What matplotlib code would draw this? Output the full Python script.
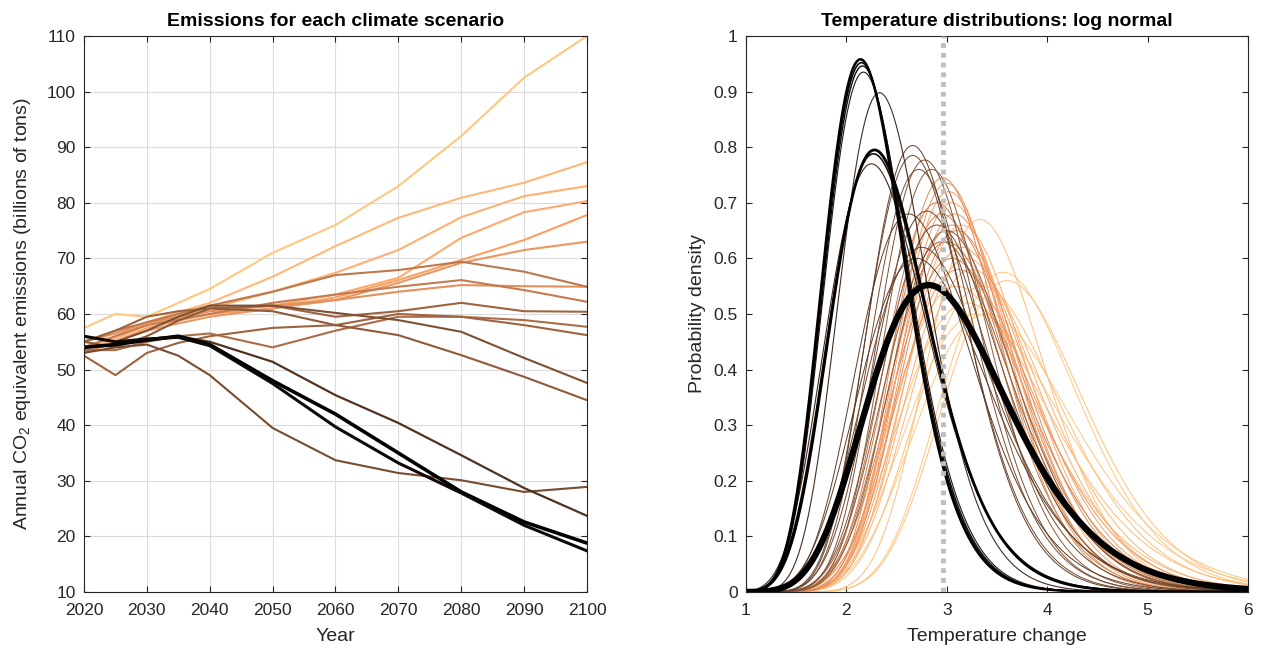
import numpy as np
import matplotlib
matplotlib.use("Agg")
import matplotlib.pyplot as plt
from matplotlib import cm

plt.rcParams['font.family'] = ['Liberation Sans', 'DejaVu Sans']
plt.rcParams['mathtext.default'] = 'regular'

# ---- left panel data: emissions per scenario (billions of tons CO2e)
years = [2020, 2025, 2030, 2035, 2040, 2050, 2060, 2070, 2080, 2090, 2100]
emissions = [
    [57.5, 60.0, 59.5, 62.0, 64.5, 71.0, 76.0, 83.0, 92.0, 102.5, 110.0],
    [54.0, 56.0, 58.5, 60.3, 62.0, 66.7, 72.2, 77.3, 80.9, 83.6, 87.3],
    [53.5, 55.5, 58.0, 59.6, 61.0, 64.0, 67.4, 71.5, 77.4, 81.2, 83.0],
    [54.0, 56.0, 58.0, 59.3, 60.5, 61.5, 63.5, 66.5, 73.7, 78.3, 80.3],
    [53.0, 55.0, 57.5, 58.8, 60.0, 61.0, 63.0, 66.1, 69.7, 73.3, 77.8],
    [53.0, 55.0, 57.0, 58.3, 59.5, 61.0, 62.5, 65.6, 69.2, 71.5, 73.0],
    [55.0, 56.5, 58.5, 59.5, 60.5, 61.5, 62.5, 64.0, 65.2, 65.0, 64.9],
    [55.0, 57.0, 58.5, 60.0, 61.5, 64.0, 67.0, 67.9, 69.4, 67.6, 64.9],
    [54.0, 56.0, 58.0, 59.0, 60.0, 62.0, 63.5, 64.9, 66.1, 64.3, 62.2],
    [55.0, 57.0, 59.5, 60.5, 61.0, 61.5, 59.5, 60.5, 62.0, 60.5, 60.4],
    [53.5, 53.5, 55.0, 56.0, 56.5, 54.0, 57.0, 59.5, 59.5, 58.9, 57.7],
    [52.5, 49.0, 53.0, 54.8, 56.0, 57.5, 58.0, 60.0, 59.5, 58.0, 56.2],
    [56.0, 55.0, 57.0, 59.5, 61.5, 61.5, 60.2, 58.9, 56.8, 52.1, 47.6],
    [55.0, 54.0, 56.0, 58.8, 61.0, 60.5, 58.0, 56.2, 52.6, 48.7, 44.5],
    [53.0, 54.0, 54.5, 52.5, 49.0, 39.5, 33.7, 31.4, 30.1, 28.0, 28.9],
    [54.0, 54.5, 55.5, 56.0, 55.0, 51.4, 45.4, 40.4, 34.6, 28.7, 23.7],
    [54.0, 54.5, 55.3, 56.0, 54.5, 48.0, 42.0, 35.0, 28.0, 22.6, 18.8],
    [56.0, 55.0, 55.5, 55.8, 54.3, 47.5, 39.7, 33.2, 27.8, 22.0, 17.4],
]
# copper colormap position for each scenario
line_shade = [1.0, 0.92, 0.88, 0.85, 0.8, 0.75, 0.72, 0.6, 0.62, 0.5,
              0.55, 0.5, 0.4, 0.45, 0.38, 0.25, 0.0, 0.05]
line_width = [1.5] * 15 + [1.6, 2.6, 2.2]

# ---- right panel data: log-normal temperature distributions (mode, peak density)
modes = [3.56, 3.60, 3.33, 3.40, 3.30, 3.35, 3.25, 3.20, 3.10, 3.20,
         3.15, 3.15, 3.12, 3.05, 3.10, 3.05, 3.00, 2.95, 2.90, 3.08,
         3.05, 3.02, 3.00, 2.96, 2.85, 3.00, 2.95, 2.90, 2.80, 2.78,
         2.72, 2.66, 2.66, 2.75, 2.70, 2.62,
         2.33, 2.25, 2.17, 2.27, 2.16, 2.15, 2.28, 2.14, 2.82]
peaks = [0.575, 0.560, 0.670, 0.500, 0.500, 0.550, 0.580, 0.520, 0.550, 0.600,
         0.620, 0.660, 0.580, 0.600, 0.650, 0.660, 0.630, 0.680, 0.700, 0.680,
         0.700, 0.720, 0.735, 0.745, 0.760, 0.650, 0.630, 0.660, 0.685, 0.777,
         0.760, 0.785, 0.803, 0.620, 0.600, 0.680,
         0.898, 0.770, 0.935, 0.788, 0.946, 0.952, 0.795, 0.958, 0.552]
curve_shade = [1.0, 0.97, 0.95, 1.0, 1.0, 0.95, 0.9, 0.95, 0.9, 0.85,
               0.8, 0.85, 0.75, 0.65, 0.7, 0.7, 0.6, 0.65, 0.6, 0.75,
               0.8, 0.8, 0.75, 0.7, 0.45, 0.45, 0.45, 0.4, 0.35, 0.4,
               0.38, 0.35, 0.3, 0.35, 0.3, 0.3,
               0.22, 0.2, 0.12, 0.08, 0.06, 0.03, 0.0, 0.0, 0.0]
curve_width = [0.7] * 36 + [0.8, 0.8, 0.8, 1.2, 1.0, 1.2, 2.0, 1.8, 4.5]
threshold = 2.96


def lognormal_from_mode(m, h, x):
    # solve sigma*exp(sigma^2/2) = 1/(m*h*sqrt(2pi)) by bisection
    target = 1.0 / (m * h * np.sqrt(2 * np.pi))
    lo, hi = 1e-4, 3.0
    for _ in range(80):
        mid = 0.5 * (lo + hi)
        if mid * np.exp(mid ** 2 / 2) < target:
            lo = mid
        else:
            hi = mid
    s = 0.5 * (lo + hi)
    mu = np.log(m) + s ** 2
    return np.exp(-(np.log(x) - mu) ** 2 / (2 * s ** 2)) / (x * s * np.sqrt(2 * np.pi))


txt = (0.15, 0.15, 0.15)
fig = plt.figure(figsize=(12.65, 6.54), dpi=100)
ax1 = fig.add_axes([0.0664, 0.0948, 0.3976, 0.8502])
ax2 = fig.add_axes([0.5897, 0.0948, 0.3969, 0.8502])

for vals, sh, lw in zip(emissions, line_shade, line_width):
    ax1.plot(years, vals, color=cm.copper(sh), lw=lw)
ax1.set_xlim(2020, 2100)
ax1.set_ylim(10, 110)
ax1.set_xticks(range(2020, 2101, 10))
ax1.set_yticks(range(10, 111, 10))
ax1.grid(True, color=(0.86, 0.86, 0.86), lw=0.8)
ax1.set_axisbelow(True)
ax1.set_title("Emissions for each climate scenario", fontsize=14, fontweight='bold', pad=7)
ax1.set_xlabel("Year", fontsize=14, color=txt, labelpad=7)
ax1.set_ylabel("Annual CO$_2$ equivalent emissions (billions of tons)", fontsize=14,
               color=txt, labelpad=10)

x = np.linspace(1, 6, 500)
for m, h, sh, lw in zip(modes, peaks, curve_shade, curve_width):
    ax2.plot(x, lognormal_from_mode(m, h, x), color=cm.copper(sh), lw=lw)
ax2.axvline(threshold, color=(0.75, 0.75, 0.75), lw=3.5, ls=(0, (1, 1)), zorder=3)
ax2.set_xlim(1, 6)
ax2.set_ylim(0, 1)
ax2.set_xticks(range(1, 7))
ax2.set_yticks(np.arange(0, 1.01, 0.1))
ax2.set_yticklabels(["0", "0.1", "0.2", "0.3", "0.4", "0.5", "0.6", "0.7", "0.8", "0.9", "1"])
ax2.set_title("Temperature distributions: log normal", fontsize=14, fontweight='bold', pad=7)
ax2.set_xlabel("Temperature change", fontsize=14, color=txt, labelpad=7)
ax2.set_ylabel("Probability density", fontsize=14, color=txt, labelpad=5)

for ax in (ax1, ax2):
    ax.tick_params(direction='in', top=True, right=True, length=4, width=0.8,
                   labelsize=12.5, labelcolor=txt, color=txt)
    ax.tick_params(axis='x', pad=8)
    ax.tick_params(axis='y', pad=6)
    for s in ax.spines.values():
        s.set_color(txt)
        s.set_linewidth(0.8)

fig.savefig("out.png", dpi=100)
